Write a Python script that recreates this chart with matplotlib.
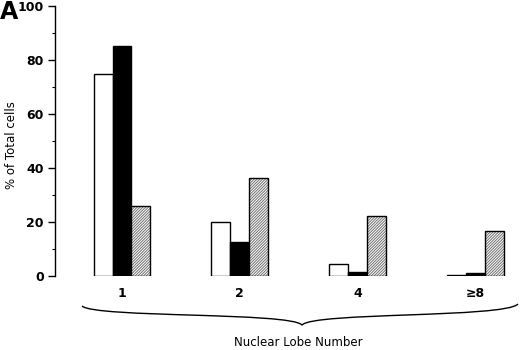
import matplotlib
matplotlib.use("Agg")
import matplotlib.pyplot as plt
import numpy as np
from matplotlib.path import Path
from matplotlib.patches import PathPatch

categories = ["1", "2", "4", "\u22658"]
white_vals = [75, 20, 4.4, 0.5]
black_vals = [85, 12.5, 1.3, 1.2]
hatch_vals = [26, 36.2, 22.3, 16.6]
yticks = [0, 20, 40, 60, 80, 100]

plt.rcParams['font.family'] = ['DejaVu Sans']
plt.rcParams['hatch.linewidth'] = 0.7
W, H = 520, 350
fig = plt.figure(figsize=(W/100, H/100), dpi=100)
ax_left, ax_right, ax_bottom, ax_top = 55, 520, 276, 6
ax = fig.add_axes([ax_left/W, 1-ax_bottom/H, (ax_right-ax_left)/W, (ax_bottom-ax_top)/H])

x = np.arange(len(categories))
bw = 0.161
ax.bar(x - bw, white_vals, bw, color='white', edgecolor='black', linewidth=1.0)
ax.bar(x, black_vals, bw, color='black', edgecolor='black', linewidth=1.0)
ax.bar(x + bw, hatch_vals, bw, color='white', edgecolor='#707070', hatch='/' * 12, linewidth=0)
ax.bar(x + bw, hatch_vals, bw, fill=False, edgecolor='black', linewidth=1.0)

ax.set_xlim(-0.569, 3.38)
ax.set_ylim(0, 100)
ax.spines['top'].set_visible(False)
ax.spines['right'].set_visible(False)
ax.spines['bottom'].set_visible(False)
ax.spines['left'].set_linewidth(1.0)
ax.set_yticks(yticks)
ax.set_yticklabels([str(v) for v in yticks], fontsize=9, fontweight='bold')
ax.set_yticks(np.arange(10, 100, 20), minor=True)
ax.tick_params(axis='y', which='major', length=5, width=1, pad=3)
ax.tick_params(axis='y', which='minor', length=2.5, width=0.8)
ax.set_xticks(x)
ax.set_xticklabels(categories, fontsize=9, fontweight='bold')
ax.tick_params(axis='x', length=0, pad=8)

fig.text(12/W, 1-145/H, "% of Total cells", rotation=90, ha='center', va='center', fontsize=8.5)
fig.text(0/W, 1-12/H, "A", ha='left', va='center', fontsize=17, fontweight='bold')
fig.text(298/W, 1-342/H, "Nuclear Lobe Number", ha='center', va='center', fontsize=8.5)

def fc(px, py):
    return (px/W, 1-py/H)

verts = [fc(82, 306), fc(95, 318), fc(290, 312), fc(302, 325),
         fc(314, 312), fc(505, 318), fc(518, 304)]
codes = [Path.MOVETO, Path.CURVE4, Path.CURVE4, Path.CURVE4,
         Path.CURVE4, Path.CURVE4, Path.CURVE4]
brace = PathPatch(Path(verts, codes), transform=fig.transFigure, fill=False,
                  edgecolor='black', linewidth=1.0)
fig.patches.append(brace)

fig.savefig("out.png", dpi=100)
